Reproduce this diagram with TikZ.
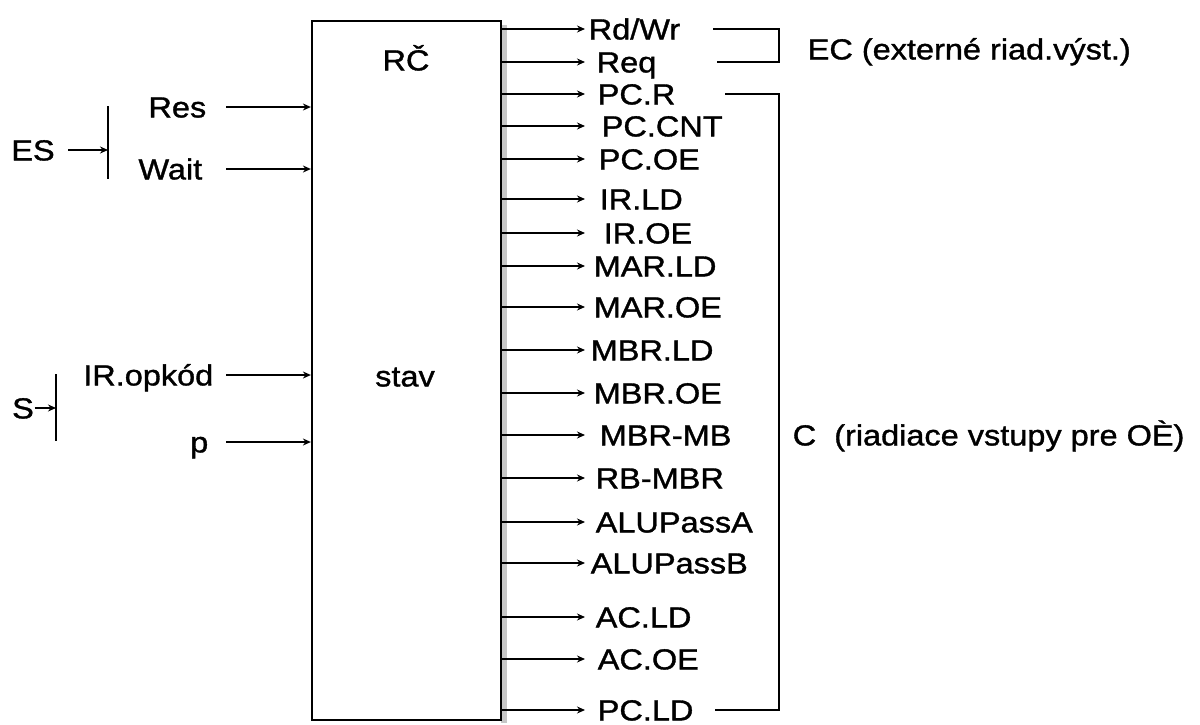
\documentclass[tikz,border=0pt]{standalone}
\usepackage{fontspec}
\setmainfont{Liberation Sans}[FakeStretch=1.12, FakeBold=1.2]
\usetikzlibrary{arrows.meta}

\tikzset{every picture/.style={line width=0.75pt}}
\tikzset{
  lbl/.style={inner sep=0pt, font=\fontsize{14.5}{17}\selectfont, text height=10.4pt, text depth=0pt},
  sig/.style={-{Stealth[length=4pt,width=3.5pt]}, line width=0.7pt},
}

\begin{document}
\begin{tikzpicture}[x=0.5pt, y=-0.5pt]
\useasboundingbox (0,0) rectangle (1200,724);

% control unit with its shadow
\fill[gray!45] (501,25) rectangle (507,723);
\node[draw, line width=1.1pt, inner sep=0pt, minimum width=94.5pt, minimum height=349.5pt] (rc) at (406.5,370.5) {};
\node[lbl] (rcname) at (406,60) {RČ};
\node[lbl] (stav) at (405,376) {stav};

% inputs
\coordinate (inx) at (226,0);
\node[lbl, anchor=east] (res) at (207,107) {Res};
\node[lbl, anchor=east] (wait) at (203,169) {Wait};
\node[lbl, anchor=east] (opkod) at (214,375) {IR.opkód};
\node[lbl, anchor=east] (p) at (209,442) {p};

\node[lbl] (es) at (33,150) {ES};
    \coordinate (esT) at (108,106);
    \coordinate (esB) at (108,179);
\node[lbl] (s) at (23,408) {S};
    \coordinate (sT) at (56,374);
    \coordinate (sB) at (56,441);

\draw (esT) -- (esB);
\draw[sig] ([xshift=6.5pt]es.east) -- (es -| esT);
\draw (sT) -- (sB);
\draw[sig] (s.east) -- (s -| sT);

\foreach \n in {res,wait,opkod,p}
    \draw[sig] (\n -| inx) -- (\n -| rc.west);

% outputs
\coordinate (tipx) at (585,0);
\node[lbl, anchor=west] (rdwr) at (588,29) {Rd/Wr};
\node[lbl, anchor=west] (req) at (596,62) {Req};
\node[lbl, anchor=west] (pcr) at (597,94) {PC.R};
\node[lbl, anchor=west] (pccnt) at (601,126) {PC.CNT};
\node[lbl, anchor=west] (pcoe) at (598,159) {PC.OE};
\node[lbl, anchor=west] (irld) at (599,199) {IR.LD};
\node[lbl, anchor=west] (iroe) at (603,233) {IR.OE};
\node[lbl, anchor=west] (marld) at (593,266) {MAR.LD};
\node[lbl, anchor=west] (maroe) at (593,307) {MAR.OE};
\node[lbl, anchor=west] (mbrld) at (590,350) {MBR.LD};
\node[lbl, anchor=west] (mbroe) at (593,393) {MBR.OE};
\node[lbl, anchor=west] (mbrmb) at (599,435) {MBR-MB};
\node[lbl, anchor=west] (rbmbr) at (595,478) {RB-MBR};
\node[lbl, anchor=west] (alua) at (595,522) {ALUPassA};
\node[lbl, anchor=west] (alub) at (590,563) {ALUPassB};
\node[lbl, anchor=west] (acld) at (595,617) {AC.LD};
\node[lbl, anchor=west] (acoe) at (597,659) {AC.OE};
\node[lbl, anchor=west] (pcld) at (597,710) {PC.LD};

\foreach \n in {rdwr,req,pcr,pccnt,pcoe,irld,iroe,marld,maroe,mbrld,mbroe,mbrmb,rbmbr,alua,alub,acld,acoe,pcld}
    \draw[sig] (\n -| rc.east) -- (\n -| tipx);

% groups
\draw (713,29) -- (779,29) -- (779,62) -- (717,62);
\node[lbl, anchor=west] (ec) at (807,49) {EC (externé riad.výst.)};

\draw (725,94) -- (779,94) -- (779,710) -- (715,710);
\node[lbl, anchor=west] (c) at (792,435) {C\ \ (riadiace vstupy pre OÈ)};

\end{tikzpicture}
\end{document}
